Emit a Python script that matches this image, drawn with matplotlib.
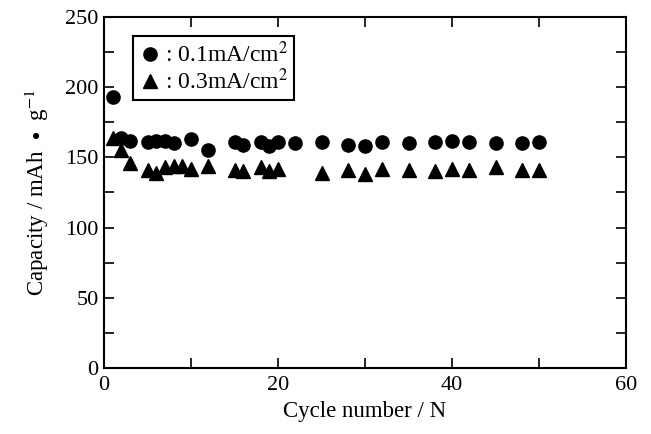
import matplotlib
matplotlib.use("Agg")
import matplotlib.pyplot as plt
from matplotlib.ticker import MultipleLocator

plt.rcParams['font.family'] = ['Liberation Serif', 'DejaVu Serif']
plt.rcParams['mathtext.fontset'] = 'stix'

# 0.1 mA/cm2
cyc_01 = [1, 2, 3, 5, 6, 7, 8, 10, 12, 15, 16, 18, 19, 20, 22, 25, 28, 30, 32, 35, 38, 40, 42, 45, 48, 50]
cap_01 = [193, 164, 162, 161, 162, 161.5, 160, 163, 155, 161, 159, 161, 158, 161, 160, 161, 159, 158, 161, 160, 161, 161.5, 161, 160, 160, 161]

# 0.3 mA/cm2
cyc_03 = [1, 2, 3, 5, 6, 7, 8, 9, 10, 12, 15, 16, 18, 19, 20, 25, 28, 30, 32, 35, 38, 40, 42, 45, 48, 50]
cap_03 = [164, 155, 146, 141, 139, 143, 144, 144, 142, 144, 141, 140, 143, 140, 142, 139, 141, 138, 142, 141, 140, 142, 141, 143, 141, 141]

fig = plt.figure(figsize=(6.51, 4.34), dpi=100)
ax = fig.add_axes([0.1598, 0.152, 0.8018, 0.809])

ax.plot(cyc_01, cap_01, 'o', color='black', markersize=9.5, linestyle='none',
        label=': 0.1mA/cm$^2$')
ax.plot(cyc_03, cap_03, '^', color='black', markersize=10, linestyle='none',
        label=': 0.3mA/cm$^2$')

ax.set_xlim(0, 60)
ax.set_ylim(0, 250)
ax.xaxis.set_major_locator(MultipleLocator(20))
ax.xaxis.set_minor_locator(MultipleLocator(10))
ax.yaxis.set_major_locator(MultipleLocator(50))
ax.yaxis.set_minor_locator(MultipleLocator(25))
ax.tick_params(which='both', direction='in', top=True, right=True, labelsize=16, width=1.2, length=7)
ax.tick_params(axis='x', pad=6)
ax.tick_params(axis='y', pad=4)
for s in ax.spines.values():
    s.set_linewidth(1.5)

ax.set_xlabel('Cycle number / N', fontsize=16.5, labelpad=4)
ax.set_ylabel('Capacity / mAh  $\\bullet$  g$^{-1}$', fontsize=16.5, labelpad=10)

leg = ax.legend(loc='upper left', bbox_to_anchor=(0.056, 0.946), fontsize=17,
                handletextpad=0.2, handlelength=0.9, borderpad=0.25,
                labelspacing=0.05, fancybox=False, framealpha=1, borderaxespad=0)
leg.get_frame().set_edgecolor('black')
leg.get_frame().set_linewidth(1.5)

fig.savefig('out.png', dpi=100)
